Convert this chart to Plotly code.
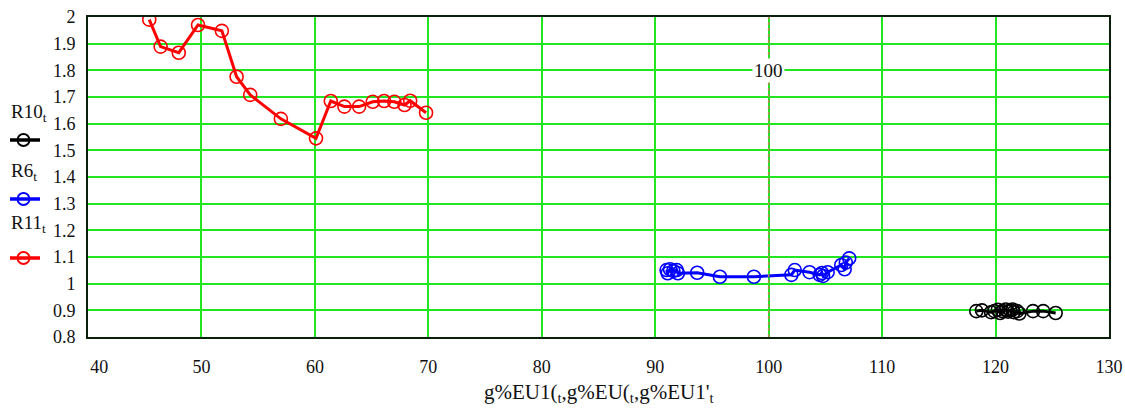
import plotly.graph_objects as go

# Series values (x = g%EU.., y = R..)
r10_x = [118.3, 118.8, 119.6, 119.9, 120.2, 120.4, 120.6, 120.9, 121.1, 121.3, 121.5, 121.6, 121.9, 122.1, 123.3, 124.2, 125.3]
r10_y = [0.897, 0.900, 0.893, 0.897, 0.902, 0.890, 0.897, 0.903, 0.895, 0.900, 0.903, 0.893, 0.897, 0.888, 0.897, 0.897, 0.890]

r6_x = [91.0, 91.1, 91.3, 91.6, 91.9, 92.0, 93.7, 95.7, 98.7, 102.0, 102.3, 103.6, 104.5, 104.7, 104.8, 105.2, 106.4, 106.7, 106.8, 107.1]
r6_y = [1.051, 1.039, 1.054, 1.048, 1.051, 1.039, 1.041, 1.026, 1.026, 1.033, 1.051, 1.043, 1.033, 1.040, 1.029, 1.043, 1.070, 1.054, 1.079, 1.095]

r11_x = [45.4, 46.4, 48.0, 49.7, 51.8, 53.1, 54.3, 57.0, 60.1, 61.4, 62.6, 63.9, 65.1, 66.1, 67.0, 67.9, 68.4, 69.8]
r11_y = [1.99, 1.889, 1.866, 1.970, 1.948, 1.776, 1.708, 1.618, 1.545, 1.685, 1.664, 1.664, 1.682, 1.685, 1.682, 1.670, 1.686, 1.641]

x_ticks = [40, 50, 60, 70, 80, 90, 100, 110, 120, 130]
x_tick_text = ["&nbsp;&nbsp;&nbsp;&nbsp;&nbsp;40", "50", "60", "70", "80", "90", "100", "110", "120", "130"]
y_ticks = [0.8, 0.9, 1.0, 1.1, 1.2, 1.3, 1.4, 1.5, 1.6, 1.7, 1.8, 1.9, 2.0]
y_tick_text = ["0.8", "0.9", "1", "1.1", "1.2", "1.3", "1.4", "1.5", "1.6", "1.7", "1.8", "1.9", "2"]

marker_x = 100
marker_y = 1.8

series = [
    ("R10", r10_x, r10_y, "#000000"),
    ("R6", r6_x, r6_y, "#0000ff"),
    ("R11", r11_x, r11_y, "#ff0000"),
]

FONT = "Liberation Serif, Times New Roman, serif"
GRID = "#22e622"

fig = go.Figure()
for name, xs, ys, col in series:
    fig.add_trace(go.Scatter(
        x=xs, y=ys, mode="lines+markers", name=name,
        line=dict(color=col, width=3),
        marker=dict(symbol="circle-open", size=13, color=col, line=dict(width=1.6, color=col)),
        showlegend=False,
    ))

# vertical marker line with its value label
fig.add_shape(type="line", xref="x", yref="paper", x0=marker_x, x1=marker_x, y0=0, y1=1,
              line=dict(color="#b08a50", width=1.5, dash="dot"), layer="above")
fig.add_annotation(x=marker_x, y=marker_y, xref="x", yref="y", text=str(marker_x),
                   showarrow=False, bgcolor="white", font=dict(family=FONT, size=19, color="#111"),
                   borderpad=1)

# plot-area geometry in pixels, used to place the legend block
L, R, T, B = 88, 16, 17, 78
W = 1125.0 - L - R
H = 415.0 - T - B

def px(xp):
    return (xp - L) / W

def py(yp):
    return (415 - B - yp) / H

legend_rows = [(113, 140), (172, 199), (224, 258)]
for (name, _, _, col), (ty, ly) in zip(series, legend_rows):
    fig.add_annotation(x=px(9), y=py(ty), xref="paper", yref="paper", xanchor="left", yanchor="middle",
                       text=name + "<sub>t</sub>", showarrow=False,
                       font=dict(family=FONT, size=19, color="#111"))
    fig.add_shape(type="line", xref="paper", yref="paper", x0=px(10), x1=px(40), y0=py(ly), y1=py(ly),
                  line=dict(color=col, width=3.5))
    fig.add_shape(type="circle", xref="paper", yref="paper", xsizemode="pixel", ysizemode="pixel",
                  xanchor=px(23.5), yanchor=py(ly), x0=-6, x1=6, y0=-6, y1=6,
                  line=dict(color=col, width=1.8))

# axis title
fig.add_annotation(x=0.5, y=py(393), xref="paper", yref="paper", yanchor="middle",
                   text="g%EU1(<sub>t</sub>,g%EU(<sub>t</sub>,g%EU1'<sub>t</sub>",
                   showarrow=False, font=dict(family=FONT, size=21, color="#111"))

fig.update_xaxes(range=[40, 130], tickvals=x_ticks, ticktext=x_tick_text,
                 showgrid=True, gridcolor=GRID, gridwidth=2, zeroline=False,
                 showline=True, linecolor="#0a200a", linewidth=2, mirror=True,
                 ticks="", ticklabelstandoff=12, automargin=False,
                 tickfont=dict(family=FONT, size=18, color="#111"))
fig.update_yaxes(range=[0.8, 2.0], tickvals=y_ticks, ticktext=y_tick_text,
                 showgrid=True, gridcolor=GRID, gridwidth=2, zeroline=False,
                 showline=True, linecolor="#0a200a", linewidth=2, mirror=True,
                 ticks="", ticklabelstandoff=7, automargin=False,
                 tickfont=dict(family=FONT, size=18, color="#111"))

fig.update_layout(width=1125, height=415, margin=dict(l=L, r=R, t=T, b=B),
                  paper_bgcolor="white", plot_bgcolor="white", showlegend=False)

fig.write_html("out.html")
